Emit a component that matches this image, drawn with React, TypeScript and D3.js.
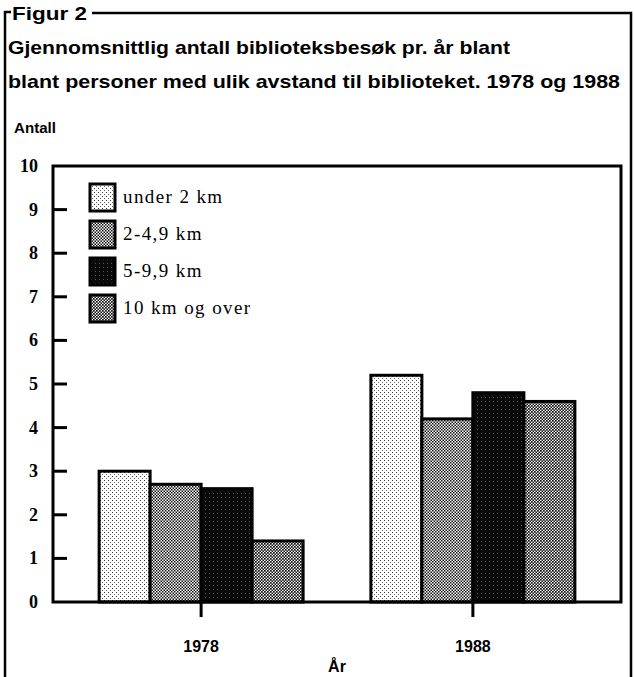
import React from "react";
import * as d3 from "d3";

const years = ["1978", "1988"];
const series = ["under 2 km", "2-4,9 km", "5-9,9 km", "10 km og over"];
const values: number[][] = [
  [3.0, 5.2],
  [2.7, 4.2],
  [2.6, 4.8],
  [1.4, 4.6],
];
const yTicks = [0, 1, 2, 3, 4, 5, 6, 7, 8, 9, 10];
const titleLines = [
  "Gjennomsnittlig antall biblioteksbesøk pr. år blant",
  "blant personer med ulik avstand til biblioteket.  1978 og 1988",
];
const titleWidths = [502, 612];

const W = 634;
const H = 677;
const plot = { left: 53, right: 621, top: 166, bottom: 602 };

export default function App() {
  const y = d3.scaleLinear().domain([0, 10]).range([plot.bottom, plot.top]);
  const x = d3.scalePoint<string>().domain(years).range([plot.left, plot.right]).padding(0.545);
  const inner = d3.scaleBand<string>().domain(series).range([-102, 102]).padding(0);
  const patIds = ["p0", "p1", "p2", "p3"];
  const serif = "'Liberation Serif', 'Times New Roman', serif";
  const sans = "'Liberation Sans', Arial, sans-serif";

  return (
    <svg width={W} height={H} style={{ position: "absolute", left: 0, top: 0, background: "#fff" }}>
      <defs>
        <pattern id="p0" width="4" height="4" patternUnits="userSpaceOnUse">
          <rect width="4" height="4" fill="#fff" />
          <rect x="0" y="0" width="1" height="1" fill="#333" />
          <rect x="2" y="2" width="1" height="1" fill="#666" />
        </pattern>
        <pattern id="p1" width="3" height="3" patternUnits="userSpaceOnUse">
          <rect width="3" height="3" fill="#fff" />
          <rect x="0" y="0" width="1.5" height="1.5" fill="#111" />
          <rect x="1.5" y="1.5" width="1.5" height="1.5" fill="#111" />
        </pattern>
        <pattern id="p2" width="4" height="4" patternUnits="userSpaceOnUse">
          <rect width="4" height="4" fill="#0a0a0a" />
          <rect x="1" y="1" width="1" height="1" fill="#555" />
        </pattern>
        <pattern id="p3" width="3" height="3" patternUnits="userSpaceOnUse">
          <rect width="3" height="3" fill="#fff" />
          <rect x="0" y="0" width="1.7" height="1.7" fill="#111" />
          <rect x="1.5" y="1.5" width="1.6" height="1.6" fill="#111" />
        </pattern>
      </defs>

      {/* outer figure frame */}
      <path d={`M5,${H} V12 H11`} fill="none" stroke="#000" strokeWidth={2.5} />
      <path d={`M92,13 H631 V${H}`} fill="none" stroke="#000" strokeWidth={2.5} />
      <text x={12} y={20} fontFamily={sans} fontWeight="bold" fontSize={18} textLength={75} lengthAdjust="spacingAndGlyphs">Figur 2</text>
      {titleLines.map((t, i) => (
        <text key={i} x={8} y={54 + i * 34} fontFamily={sans} fontWeight="bold" fontSize={19}
          textLength={titleWidths[i]} lengthAdjust="spacingAndGlyphs">{t}</text>
      ))}
      <text x={14} y={133} fontFamily={sans} fontWeight="bold" fontSize={15} textLength={42} lengthAdjust="spacingAndGlyphs">Antall</text>

      {/* bars */}
      {series.map((s, si) =>
        years.map((yr, yi) => {
          const v = values[si][yi];
          return (
            <rect
              key={s + yr}
              x={(x(yr) as number) + (inner(s) as number)}
              y={y(v)}
              width={inner.bandwidth()}
              height={y(0) - y(v)}
              fill={`url(#${patIds[si]})`}
              stroke="#000"
              strokeWidth={3}
            />
          );
        })
      )}

      {/* plot frame */}
      <rect x={plot.left} y={plot.top} width={plot.right - plot.left} height={plot.bottom - plot.top} fill="none" stroke="#000" strokeWidth={3} />

      {/* y ticks */}
      {yTicks.map((t) => (
        <g key={t}>
          {t > 0 && t < 10 && <line x1={plot.left} x2={plot.left + 14} y1={y(t)} y2={y(t)} stroke="#000" strokeWidth={3} />}
          <text x={38} y={y(t) + 6} textAnchor="end" fontFamily={serif} fontWeight="bold" fontSize={18}>{t}</text>
        </g>
      ))}

      {/* x ticks */}
      {years.map((yr) => (
        <g key={yr}>
          <line x1={x(yr)} x2={x(yr)} y1={plot.bottom} y2={plot.bottom + 15} stroke="#000" strokeWidth={3} />
          <text x={x(yr)} y={652} textAnchor="middle" fontFamily={sans} fontWeight="bold" fontSize={16}>{yr}</text>
        </g>
      ))}
      <text x={(plot.left + plot.right) / 2} y={672} textAnchor="middle" fontFamily={sans} fontWeight="bold" fontSize={16}>År</text>

      {/* legend */}
      {series.map((s, i) => (
        <g key={s} transform={`translate(90, ${184 + i * 37})`}>
          <rect x={0} y={0} width={25} height={27} fill={`url(#${patIds[i]})`} stroke="#000" strokeWidth={3} />
          <text x={33} y={19} fontFamily={serif} fontSize={19} letterSpacing={1.4} fontWeight={500}>{s}</text>
        </g>
      ))}
    </svg>
  );
}
